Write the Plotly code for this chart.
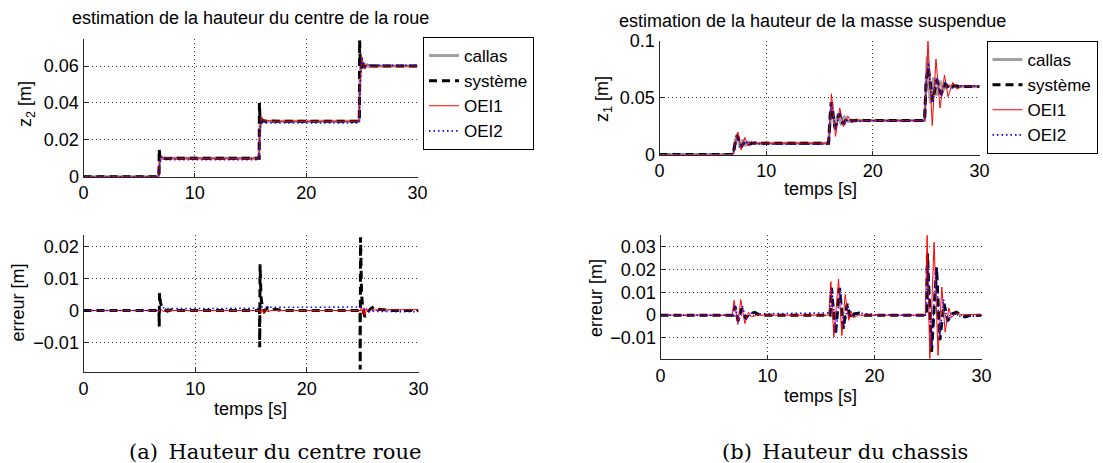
import plotly.graph_objects as go

# ---------------- data ----------------
# Panel (a) top : wheel-centre height z2 [m]
callas_z2 = [(0, 0), (6.75, 0), (6.85, 0.009), (6.95, 0.0108), (7.1, 0.0098), (7.3, 0.0101), (7.6, 0.01),
             (15.75, 0.01), (15.85, 0.027), (15.95, 0.0318), (16.1, 0.0298), (16.3, 0.0303), (16.6, 0.03),
             (24.75, 0.03), (24.85, 0.055), (24.95, 0.0635), (25.1, 0.0585), (25.3, 0.0608), (25.6, 0.0597),
             (26.0, 0.06), (30, 0.06)]
systeme_z2 = [(0, 0), (6.78, 0), (6.8, 0.015), (6.82, 0.012), (6.86, 0.0105), (6.95, 0.0095), (7.1, 0.0102),
              (7.4, 0.0098), (8.0, 0.01), (15.78, 0.01), (15.8, 0.04), (15.82, 0.034), (15.86, 0.031),
              (15.95, 0.0295), (16.1, 0.0305), (16.5, 0.0298), (16.8, 0.0302), (17.5, 0.03), (24.78, 0.03),
              (24.8, 0.074), (24.82, 0.066), (24.86, 0.062), (24.95, 0.059), (25.1, 0.0605), (25.3, 0.0595),
              (25.6, 0.0603), (26.0, 0.06), (30, 0.06)]
oei1_z2 = [(0, 0), (6.75, 0), (6.85, 0.008), (7.0, 0.0112), (7.2, 0.0099), (7.5, 0.0102), (7.9, 0.01),
           (15.75, 0.01), (15.85, 0.026), (16.0, 0.0325), (16.2, 0.0302), (16.5, 0.0306), (16.9, 0.03),
           (24.75, 0.03), (24.85, 0.052), (25.0, 0.065), (25.25, 0.0585), (25.5, 0.0612), (25.8, 0.0598),
           (26.2, 0.06), (30, 0.06)]
oei2_z2 = [(0, 0), (6.75, 0), (6.85, 0.007), (7.0, 0.0105), (7.3, 0.0095), (7.8, 0.0092), (15.75, 0.0092),
           (15.85, 0.025), (16.0, 0.031), (16.3, 0.0292), (16.8, 0.0291), (24.75, 0.0291), (24.85, 0.05),
           (25.0, 0.064), (25.3, 0.0595), (25.7, 0.0604), (30, 0.0604)]

# Panel (a) bottom : error on z2 [m]
err_sys_z2 = [(0, 0), (6.76, 0), (6.78, -0.005), (6.81, 0.0055), (6.84, 0.004), (6.9, 0.0025), (7.0, 0.0012),
              (7.2, 0.0004), (7.5, -0.0002), (7.9, 0.0002), (8.3, 0), (15.76, 0), (15.78, -0.0115),
              (15.81, 0.0145), (15.84, 0.009), (15.9, 0.004), (16.0, 0.0015), (16.2, -0.0003), (16.5, 0.0008),
              (16.8, 0.0002), (17.2, 0.0004), (17.8, 0), (24.76, 0), (24.78, -0.0185), (24.81, 0.023),
              (24.84, 0.012), (24.9, 0.005), (25.0, 0.001), (25.2, -0.002), (25.4, -0.0008), (25.7, 0.0005),
              (26.0, 0.0012), (26.4, 0.0004), (26.9, 0.0002), (27.5, 0), (30, 0)]
err_oei1_z2 = [(0, 0), (6.8, 0), (6.9, 0.0006), (7.1, -0.0003), (7.4, 0), (15.8, 0), (15.9, -0.0008),
               (16.0, 0.0005), (16.15, -0.001), (16.3, 0.0003), (16.5, -0.0004), (16.8, 0), (24.8, 0),
               (24.9, 0.001), (25.0, -0.0012), (25.1, 0.0008), (25.2, -0.0015), (25.35, 0.0006),
               (25.5, -0.0004), (25.8, 0.0002), (26.5, 0.0002), (30, 0.0003)]
err_oei2_z2 = [(0, 0), (6.8, 0), (7.0, 0.001), (7.5, 0.0006), (10, 0.0006), (15.8, 0.0007), (16.0, 0.0012),
               (16.5, 0.001), (20, 0.001), (24.8, 0.0011), (25.0, 0.0008), (25.5, -0.0002), (26.5, -0.0003),
               (30, -0.0004)]

# Panel (b) top : sprung-mass height z1 [m]
callas_z1 = [(0, 0), (6.9, 0), (7.1, 0.012), (7.3, 0.018), (7.55, 0.006), (7.8, 0.013), (8.05, 0.0085),
             (8.3, 0.011), (8.6, 0.0098), (9.0, 0.01), (15.85, 0.01), (16.0, 0.032), (16.15, 0.046),
             (16.45, 0.022), (16.75, 0.036), (17.05, 0.026), (17.35, 0.033), (17.7, 0.029), (18.2, 0.03),
             (24.85, 0.03), (25.0, 0.07), (25.1, 0.0865), (25.4, 0.045), (25.7, 0.068), (26.0, 0.052),
             (26.3, 0.065), (26.6, 0.057), (27.0, 0.061), (27.5, 0.0598), (30, 0.06)]
systeme_z1 = [(0, 0), (6.9, 0), (7.1, 0.01), (7.3, 0.017), (7.65, 0.0065), (8.0, 0.0115), (8.4, 0.0092),
              (8.8, 0.0102), (9.3, 0.01), (15.85, 0.01), (16.0, 0.035), (16.1, 0.046), (16.45, 0.024),
              (16.85, 0.036), (17.2, 0.027), (17.6, 0.032), (18.1, 0.0295), (18.6, 0.0305), (19.2, 0.03),
              (24.85, 0.03), (25.0, 0.065), (25.2, 0.077), (25.6, 0.047), (26.0, 0.066), (26.4, 0.053),
              (26.8, 0.062), (27.2, 0.0575), (27.6, 0.0608), (28.2, 0.0598), (30, 0.06)]
oei1_z1 = [(0, 0), (6.9, 0), (7.1, 0.01), (7.35, 0.0198), (7.65, 0.004), (8.0, 0.015), (8.3, 0.0075),
           (8.6, 0.0115), (8.9, 0.0095), (9.3, 0.01), (15.85, 0.01), (16.0, 0.035), (16.12, 0.0535),
           (16.5, 0.016), (16.9, 0.041), (17.25, 0.0245), (17.65, 0.034), (18.0, 0.028), (18.4, 0.0305),
           (19.0, 0.03), (24.85, 0.03), (25.0, 0.06), (25.17, 0.1), (25.57, 0.0255), (25.92, 0.084),
           (26.3, 0.041), (26.72, 0.07), (27.05, 0.051), (27.5, 0.0635), (27.9, 0.0575), (28.4, 0.0605),
           (30, 0.06)]
oei2_z1 = [(0, 0), (6.9, 0), (7.1, 0.009), (7.35, 0.0155), (7.7, 0.006), (8.05, 0.012), (8.45, 0.0085),
           (8.9, 0.0095), (10, 0.009), (15.85, 0.009), (16.0, 0.03), (16.12, 0.044), (16.5, 0.022),
           (16.9, 0.037), (17.3, 0.026), (17.7, 0.031), (18.2, 0.029), (20, 0.0295), (24.85, 0.0295),
           (25.0, 0.062), (25.2, 0.081), (25.6, 0.045), (26.0, 0.068), (26.4, 0.051), (26.8, 0.063),
           (27.3, 0.058), (28, 0.0605), (30, 0.0605)]

# Panel (b) bottom : error on z1 [m]
err_sys_z1 = [(0, 0), (6.8, 0), (6.95, 0.004), (7.25, -0.0025), (7.6, 0.003), (7.95, -0.0015), (8.3, 0.0005),
              (8.8, 0.0012), (9.3, 0), (15.85, 0), (15.98, 0.012), (16.35, -0.0087), (16.73, 0.012),
              (17.07, -0.006), (17.45, 0.005), (17.76, -0.0016), (18.1, 0.0005), (18.6, 0.0009), (19.1, 0),
              (24.85, 0), (24.95, 0.027), (25.33, -0.0162), (25.8, 0.021), (26.1, -0.011), (26.5, 0.005),
              (26.85, -0.0025), (27.2, 0.0005), (27.67, 0.0013), (28.1, -0.0002), (28.5, -0.0008), (29, 0),
              (30, 0)]
err_oei1_z1 = [(0, 0), (6.7, 0), (6.88, 0.0065), (7.23, -0.0041), (7.5, 0.0068), (7.88, -0.0037),
               (8.22, 0.0013), (8.5, -0.0008), (9.0, 0), (15.75, 0), (15.92, 0.0147), (16.2, -0.0096),
               (16.64, 0.0158), (16.95, -0.009), (17.26, 0.009), (17.6, -0.0023), (17.82, 0.0017),
               (18.0, -0.0011), (18.5, 0), (24.75, 0), (24.92, 0.035), (25.17, -0.019), (25.57, 0.032),
               (25.94, -0.0177), (26.29, 0.0123), (26.6, -0.0075), (26.95, 0.0032), (27.2, -0.0011),
               (27.6, 0.0008), (28.2, 0.0002), (30, 0.0003)]
err_oei2_z1 = [(0, 0), (6.8, 0), (6.95, 0.0045), (7.3, -0.003), (7.65, 0.004), (8.0, -0.002), (8.4, 0.001),
               (8.9, 0.0004), (10, 0.0006), (14, 0.0008), (15.85, 0.001), (16.0, 0.012), (16.4, -0.008),
               (16.8, 0.012), (17.15, -0.006), (17.5, 0.004), (17.9, -0.001), (18.4, 0.001), (20, 0.0002),
               (24.85, 0), (24.98, 0.022), (25.35, -0.014), (25.75, 0.021), (26.1, -0.01), (26.45, 0.007),
               (26.8, -0.003), (27.3, 0.001), (28, -0.0005), (30, -0.0004)]

series_names = ["callas", "système", "OEI1", "OEI2"]
x_ticks = [0, 10, 20, 30]
x_ticklabels = ["0", "10", "20", "30"]
z2_ticks = [0, 0.02, 0.04, 0.06]
z2_ticklabels = ["0", "0.02", "0.04", "0.06"]
e2_ticks = [-0.01, 0, 0.01, 0.02]
e2_ticklabels = ["\u22120.01", "0", "0.01", "0.02"]
z1_ticks = [0, 0.05, 0.1]
z1_ticklabels = ["0", "0.05", "0.1"]
e1_ticks = [-0.01, 0, 0.01, 0.02, 0.03]
e1_ticklabels = ["\u22120.01", "0", "0.01", "0.02", "0.03"]

title_a = "estimation de la hauteur du centre de la roue"
title_b = "estimation de la hauteur de la masse suspendue"
caption_a = "(a)\u2002Hauteur du centre roue"
caption_b = "(b)\u2002Hauteur du chassis"

# ---------------- figure ----------------
W, H = 1103, 463
FONT = "Liberation Sans"


def px(xp):
    return xp / W


def py(yp):
    return 1 - yp / H


styles = [
    dict(color="#a0a0a0", width=3),
    dict(color="black", width=3, dash="8px,5px"),
    dict(color="red", width=1),
    dict(color="#0000ff", width=1.6, dash="1.5px,3px"),
]

fig = go.Figure()


def add_panel(data_list, xa, ya, legend=None):
    for i, (d, st) in enumerate(zip(data_list, styles)):
        if d is None:
            continue
        t, v = zip(*d)
        fig.add_trace(go.Scatter(
            x=list(t), y=list(v), mode="lines", line=st, name=series_names[i],
            xaxis=xa, yaxis=ya, showlegend=legend is not None,
            legend=legend if legend else "legend", hoverinfo="skip"))


add_panel([callas_z2, systeme_z2, oei1_z2, oei2_z2], "x", "y", legend="legend")
add_panel([None, err_sys_z2, err_oei1_z2, err_oei2_z2], "x2", "y2")
add_panel([callas_z1, systeme_z1, oei1_z1, oei2_z1], "x3", "y3", legend="legend2")
add_panel([None, err_sys_z1, err_oei1_z1, err_oei2_z1], "x4", "y4")

axis_common = dict(
    showline=True, linecolor="#262626", linewidth=1, mirror=False,
    ticks="inside", ticklen=4, tickcolor="#262626", tickwidth=1,
    showgrid=True, gridcolor="#3a3a3a", gridwidth=1, griddash="1px,3px",
    zeroline=False, tickfont=dict(family=FONT, size=18, color="black"),
    tickmode="array", fixedrange=True,
)

LEG_FONT = dict(family=FONT, size=17, color="black")

fig.update_layout(
    width=W, height=H,
    margin=dict(l=0, r=0, t=0, b=0, autoexpand=False),
    paper_bgcolor="white", plot_bgcolor="white",
    font=dict(family=FONT, size=18, color="black"),
    xaxis=dict(domain=[px(83.5), px(417.5)], range=[0, 30], anchor="y",
               tickvals=x_ticks, ticktext=x_ticklabels, **axis_common),
    yaxis=dict(domain=[py(176.7), py(39.3)], range=[0, 0.0745], anchor="x",
               tickvals=z2_ticks, ticktext=z2_ticklabels, **axis_common),
    xaxis2=dict(domain=[px(83.5), px(418.5)], range=[0, 30], anchor="y2",
                tickvals=x_ticks, ticktext=x_ticklabels, **axis_common),
    yaxis2=dict(domain=[py(372.3), py(235)], range=[-0.0194, 0.0237], anchor="x2",
                tickvals=e2_ticks, ticktext=e2_ticklabels, **axis_common),
    xaxis3=dict(domain=[px(659.5), px(979.5)], range=[0, 30], anchor="y3",
                tickvals=x_ticks, ticktext=x_ticklabels, **axis_common),
    yaxis3=dict(domain=[py(154.5), py(41)], range=[0, 0.1], anchor="x3",
                tickvals=z1_ticks, ticktext=z1_ticklabels, **axis_common),
    xaxis4=dict(domain=[px(660.5), px(981.5)], range=[0, 30], anchor="y4",
                tickvals=x_ticks, ticktext=x_ticklabels, **axis_common),
    yaxis4=dict(domain=[py(359.3), py(235)], range=[-0.0194, 0.0352], anchor="x4",
                tickvals=e1_ticks, ticktext=e1_ticklabels, **axis_common),
    legend=dict(x=px(423), y=py(37), xanchor="left", yanchor="top",
                bordercolor="black", borderwidth=1, bgcolor="white",
                font=LEG_FONT, itemwidth=30, tracegroupgap=0),
    legend2=dict(x=px(986.5), y=py(41), xanchor="left", yanchor="top",
                 bordercolor="black", borderwidth=1, bgcolor="white",
                 font=LEG_FONT, itemwidth=30, tracegroupgap=0),
)

annots = [
    dict(text=title_a, x=px(250), y=py(18), font=dict(family=FONT, size=18)),
    dict(text=title_b, x=px(812), y=py(21), font=dict(family=FONT, size=18)),
    dict(text="z<sub>2</sub> [m]", x=px(26), y=py(104), textangle=-90, font=dict(family=FONT, size=18)),
    dict(text="erreur [m]", x=px(17), y=py(302.5), textangle=-90, font=dict(family=FONT, size=18)),
    dict(text="z<sub>1</sub> [m]", x=px(603), y=py(99), textangle=-90, font=dict(family=FONT, size=18)),
    dict(text="erreur [m]", x=px(596), y=py(298), textangle=-90, font=dict(family=FONT, size=18)),
    dict(text="temps [s]", x=px(250.5), y=py(409), font=dict(family=FONT, size=18)),
    dict(text="temps [s]", x=px(820), y=py(189), font=dict(family=FONT, size=18)),
    dict(text="temps [s]", x=px(820), y=py(395.5), font=dict(family=FONT, size=18)),
    dict(text=caption_a, x=px(275), y=py(452), font=dict(family="DejaVu Serif", size=21)),
    dict(text=caption_b, x=px(845), y=py(452), font=dict(family="DejaVu Serif", size=21)),
]
for a in annots:
    fig.add_annotation(xref="paper", yref="paper", showarrow=False,
                       xanchor="center", yanchor="middle", font_color="black", **a)

fig.write_html("out.html")
